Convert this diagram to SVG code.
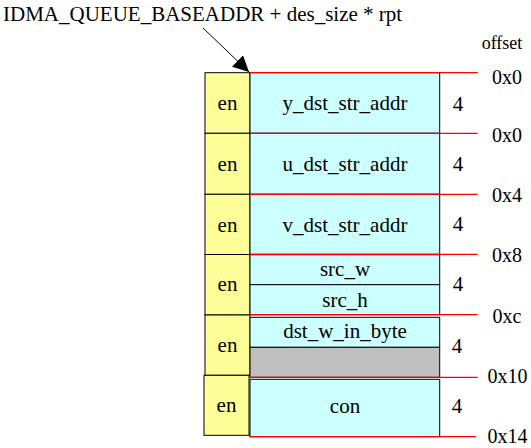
<svg xmlns="http://www.w3.org/2000/svg" width="531" height="448" viewBox="0 0 531 448">
<style>
text{font-family:"Liberation Serif","Times New Roman",serif;font-size:21px;fill:#000}
.c{text-anchor:middle}
.en{fill:#FFFF99;stroke:#000;stroke-width:1}
.cy{fill:#CCFFFF;stroke:#000;stroke-width:1}
.gr{fill:#C0C0C0;stroke:#000;stroke-width:1}
.red{stroke:#FF0000;stroke-width:1.2;fill:none}
.off{font-size:20px}
.hdr{font-size:18px}
</style>
<defs>
<marker id="ah" viewBox="0 0 10 10" refX="10" refY="5" markerWidth="16" markerHeight="16" markerUnits="userSpaceOnUse" orient="auto">
<path d="M0,0 L10,5 L0,10 z" fill="#000"/>
</marker>
</defs>
<rect width="531" height="448" fill="#fff"/>
<g id="title">
<text x="3" y="21">IDMA_QUEUE_BASEADDR + des_size * rpt</text>
</g>
<g id="offset-header"><text class="c hdr" x="502" y="49">offset</text></g>

<g id="row0">
<rect class="en" x="205" y="72.7" width="45" height="60.6"/>
<text class="c" x="227.5" y="110">en</text>
<rect class="cy" x="250" y="72.7" width="189.7" height="60.6"/>
<text class="c" x="345" y="110">y_dst_str_addr</text>
<text class="c" x="458" y="110.7">4</text>
</g>
<g id="row1">
<rect class="en" x="205" y="133.3" width="45" height="61"/>
<text class="c" x="227.5" y="171">en</text>
<rect class="cy" x="250" y="133.3" width="189.7" height="61"/>
<text class="c" x="345" y="171">u_dst_str_addr</text>
<text class="c" x="458" y="170.5">4</text>
</g>
<g id="row2">
<rect class="en" x="205" y="194.3" width="45" height="60.2"/>
<text class="c" x="227.5" y="231.5">en</text>
<rect class="cy" x="250" y="194.3" width="189.7" height="60"/>
<text class="c" x="345" y="231.5">v_dst_str_addr</text>
<text class="c" x="458" y="230.7">4</text>
</g>
<g id="row3">
<rect class="en" x="205" y="254.5" width="45" height="60.5"/>
<text class="c" x="227.5" y="290.7">en</text>
<rect class="cy" x="250" y="254.7" width="189.7" height="30"/>
<text class="c" x="345" y="276">src_w</text>
<rect class="cy" x="250" y="284.7" width="189.7" height="30"/>
<text class="c" x="345" y="306.7">src_h</text>
<text class="c" x="458" y="290.7">4</text>
</g>
<g id="row4">
<rect class="en" x="205" y="315" width="45" height="60.3"/>
<text class="c" x="227.5" y="351.7">en</text>
<rect class="cy" x="250" y="317.3" width="189.7" height="30"/>
<text class="c" x="345" y="338.3">dst_w_in_byte</text>
<rect class="gr" x="250" y="347.3" width="189.7" height="30"/>
<text class="c" x="457" y="353.3">4</text>
</g>
<g id="row5">
<rect class="en" x="204" y="375.3" width="45" height="60"/>
<text class="c" x="226.5" y="411.7">en</text>
<rect class="cy" x="250" y="379.3" width="189.7" height="57.4"/>
<text class="c" x="345" y="413.3">con</text>
<text class="c" x="457" y="413.3">4</text>
</g>

<g id="connectors">
<line x1="203" y1="28" x2="249" y2="72" stroke="#000" stroke-width="1" marker-end="url(#ah)"/>
<line class="red" x1="250" y1="72.7" x2="477.7" y2="72.7"/>
<line class="red" x1="250" y1="133.3" x2="477.7" y2="133.3"/>
<line class="red" x1="250" y1="194.3" x2="477.7" y2="194.3"/>
<line class="red" x1="250" y1="254.3" x2="477.7" y2="254.3"/>
<line class="red" x1="250" y1="314.7" x2="477.7" y2="314.7"/>
<line class="red" x1="250" y1="377.3" x2="477.7" y2="377.3"/>
<line class="red" x1="249" y1="436.7" x2="476" y2="436.7"/>
</g>

<g id="offsets">
<text class="c off" x="507" y="84">0x0</text>
<text class="c off" x="507" y="141.7">0x0</text>
<text class="c off" x="507" y="201.7">0x4</text>
<text class="c off" x="507" y="261.7">0x8</text>
<text class="c off" x="507" y="322.7">0xc</text>
<text class="c off" x="507.5" y="382.7">0x10</text>
<text class="c off" x="507.5" y="442.7">0x14</text>
</g>
</svg>
